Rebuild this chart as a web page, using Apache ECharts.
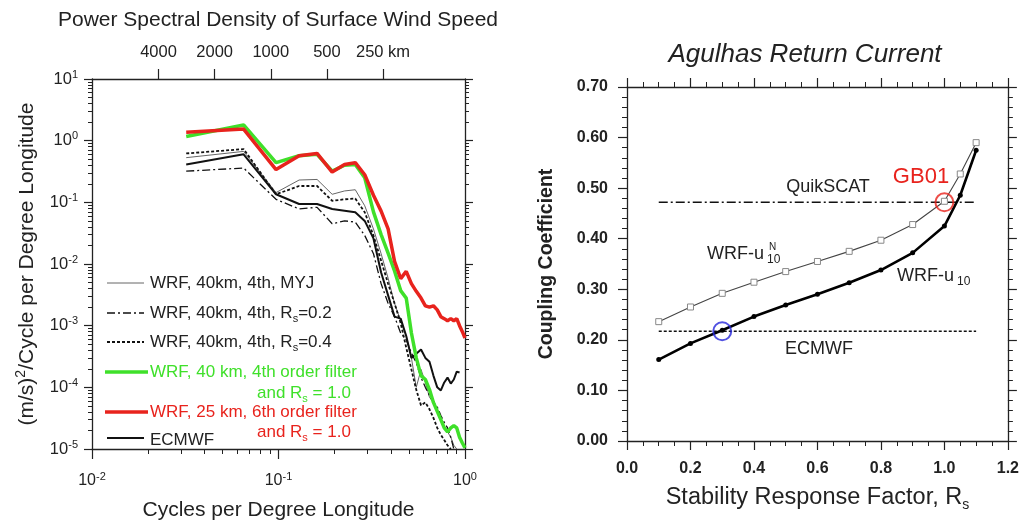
<!doctype html>
<html lang="en">
<head>
    <meta charset="utf-8">
    <title>PSD and coupling coefficient</title>
    <script src="https://cdn.jsdelivr.net/npm/echarts@6.0.0/dist/echarts.min.js"></script>
    <style>
        html, body { margin: 0; padding: 0; background: #fff; }
        #chart { width: 1022px; height: 526px; }
    </style>
</head>
<body>
<div id="chart"></div>

<script type="text/javascript">

    // ---- left panel: power spectral density ----
    const freq = [0.032, 0.065, 0.097, 0.129, 0.161, 0.194, 0.226, 0.258, 0.290, 0.323,
        0.355, 0.387, 0.419, 0.452, 0.484, 0.516, 0.548, 0.581, 0.613, 0.645,
        0.677, 0.710, 0.742, 0.774, 0.806, 0.839, 0.871, 0.903, 0.935, 0.968, 1.0];

    const psdMyj = [0.53, 0.67, 0.144, 0.23, 0.235, 0.135, 0.153, 0.16, 0.088, 0.037,
        0.0147, 0.0059, 0.0023, 0.0012, 0.00068, 0.0003, 0.0001, 0.000195, 0.00012, 6.9e-5,
        5.7e-5, 3.9e-5, 3.2e-5, 2.2e-5, 1.9e-5, 1.55e-5, 1.15e-5, 1e-5];
    const psdRs02 = [0.32, 0.36, 0.112, 0.078, 0.083, 0.045, 0.05, 0.048, 0.029, 0.0147,
        0.0048, 0.0023, 0.0014, 0.00076, 0.00059, 0.00036, 0.00025, 0.000144, 0.0001, 7.4e-5,
        5.7e-5, 4.8e-5, 3.5e-5, 2.7e-5, 2.2e-5, 1.55e-5, 1e-5];
    const psdRs04 = [0.62, 0.73, 0.135, 0.184, 0.184, 0.106, 0.112, 0.115, 0.069, 0.029,
        0.0113, 0.0048, 0.0023, 0.0011, 0.00044, 0.000195, 9.1e-5, 5.1e-5, 5.7e-5, 4.4e-5,
        3.2e-5, 2.2e-5, 1.7e-5, 1.4e-5, 1.15e-5, 1e-5];
    const psdEcmwf = [0.41, 0.6, 0.135, 0.094, 0.094, 0.078, 0.073, 0.069, 0.05, 0.026,
        0.0073, 0.0031, 0.0014, 0.0013, 0.00068, 0.0003, 0.00035, 0.00041, 0.0003, 0.00026,
        0.000155, 0.0001, 8.9e-5, 0.00012, 0.000144, 0.000115, 0.000134, 0.00018, 0.000174];
    const psdGreen = [1.17, 1.8, 0.44, 0.57, 0.6, 0.32, 0.40, 0.41, 0.25, 0.07,
        0.03, 0.015, 0.0077, 0.0037, 0.0028, 0.00076, 0.0003, 0.000155, 0.000134, 9.2e-5,
        5.7e-5, 4.1e-5, 3.0e-5, 2.2e-5, 1.9e-5, 2.2e-5, 2.4e-5, 2.2e-5, 1.55e-5, 1.25e-5, 1.04e-5];
    const psdRed = [1.37, 1.54, 0.34, 0.57, 0.62, 0.31, 0.41, 0.44, 0.28, 0.13,
        0.072, 0.037, 0.011, 0.0058, 0.0076, 0.0048, 0.0036, 0.0028, 0.0021, 0.002,
        0.0021, 0.0018, 0.0014, 0.0013, 0.0012, 0.0013, 0.0012, 0.0013, 0.001, 0.0008, 0.00063];

    const xDecades = [0.01, 0.1, 1];
    const xMinor = [0.02, 0.03, 0.04, 0.05, 0.06, 0.07, 0.08, 0.09, 0.2, 0.3, 0.4, 0.5, 0.6, 0.7, 0.8, 0.9];
    const yDecades = [1e-5, 1e-4, 1e-3, 1e-2, 1e-1, 1, 10];
    const kmTicks = [4000, 2000, 1000, 500, 250];
    const kmPerDegree = 90.9;

    // ---- right panel: coupling coefficient ----
    const rsValues = [0.1, 0.2, 0.3, 0.4, 0.5, 0.6, 0.7, 0.8, 0.9, 1.0, 1.05, 1.1];
    const couplingU10N = [0.236, 0.265, 0.292, 0.314, 0.335, 0.355, 0.375, 0.397, 0.428, 0.474, 0.528, 0.59];
    const couplingU10 = [0.161, 0.193, 0.219, 0.246, 0.269, 0.29, 0.313, 0.338, 0.372, 0.425, 0.486, 0.575];
    const refRange = [0.1, 1.1];
    const couplingQuikscat = 0.472;
    const couplingEcmwf = 0.217;
    const gb01Point = [1.0, 0.472];
    const ecmwfMatch = [0.3, 0.217];

    const FONT = '"Liberation Sans", Arial, Helvetica, sans-serif';
    const RED = '#e8231d';
    const GREEN = '#3fe02a';
    const BLUE = '#2626d9';
    const INK = '#222';

    function pairs(xs, ys) {
        return ys.map((v, i) => [xs[i], v]);
    }

    function expLabel(v) {
        return '10{e|' + Math.round(Math.log10(v)) + '}';
    }

    const minorDecades = yDecades.slice(0, -1).flatMap(d => [2, 3, 4, 5, 6, 7, 8, 9].map(m => m * d));
    const expRich = {e: {fontSize: 11, verticalAlign: 'top', lineHeight: 9, fontFamily: FONT, color: INK}};
    const legendSub = c => ({s: {fontSize: 11, verticalAlign: 'bottom', lineHeight: 10, fill: c}});

    let chart = echarts.init(document.getElementById('chart'), null, {renderer: 'canvas'});

    function logAxis(extra) {
        return Object.assign({
            type: 'log',
            logBase: 10,
            gridIndex: 0,
            splitLine: {show: false},
            axisLine: {show: true, lineStyle: {color: INK, width: 1.3}},
            axisTick: {show: true, inside: false, lineStyle: {color: INK, width: 1.2}},
            axisLabel: {show: false}
        }, extra);
    }

    function linAxis(extra) {
        return Object.assign({
            type: 'value',
            gridIndex: 1,
            splitLine: {show: false},
            axisLine: {show: true, onZero: false, lineStyle: {color: INK, width: 1.3}},
            axisTick: {show: true, inside: false, length: 9, lineStyle: {color: INK, width: 1.2}},
            minorTick: {show: true, length: 5, lineStyle: {color: INK, width: 1}},
            axisLabel: {show: false}
        }, extra);
    }

    const kmValues = kmTicks.map(k => kmPerDegree / k);

    let option = {
        animation: false,
        backgroundColor: '#fff',
        textStyle: {fontFamily: FONT},
        grid: [
            {left: 92, top: 79, width: 373, height: 373},
            {left: 627, top: 87, width: 381, height: 354}
        ],
        xAxis: [
            logAxis({
                min: 0.01, max: 1, position: 'bottom',
                axisTick: {show: true, inside: false, length: 10, customValues: xDecades, lineStyle: {color: INK, width: 1.2}},
                axisLabel: {show: true, customValues: xDecades, margin: 22, fontSize: 16, color: INK, lineHeight: 20, formatter: expLabel, rich: expRich},
                name: 'Cycles per Degree Longitude', nameLocation: 'middle', nameGap: 51,
                nameTextStyle: {fontSize: 21, color: INK, fontFamily: FONT}
            }),
            logAxis({
                min: 0.01, max: 1, position: 'bottom',
                axisLine: {show: false},
                axisTick: {show: true, inside: false, length: 5, customValues: xMinor, lineStyle: {color: INK, width: 1}}
            }),
            logAxis({
                min: 0.01, max: 1, position: 'top',
                axisTick: {show: true, inside: false, length: 10, customValues: kmValues, lineStyle: {color: INK, width: 1.2}},
                axisLabel: {
                    show: true, customValues: kmValues, margin: 18, fontSize: 16.5, color: INK,
                    formatter: function (v) {
                        const km = Math.round(kmPerDegree / v / 10) * 10;
                        return km === 250 ? '250 km' : String(km);
                    }
                }
            }),
            linAxis({
                min: 0, max: 1.2, interval: 0.2, position: 'bottom',
                minorTick: {show: true, splitNumber: 4, length: 5, lineStyle: {color: INK, width: 1}},
                axisLabel: {show: true, margin: 20, fontSize: 16, fontWeight: 'bold', color: INK, formatter: v => v.toFixed(1)},
                name: 'Stability Response Factor, R{s|s}', nameLocation: 'middle', nameGap: 43,
                nameTextStyle: {fontSize: 23.5, color: INK, fontFamily: FONT, lineHeight: 28, rich: {s: {fontSize: 14, verticalAlign: 'bottom', lineHeight: 13, color: INK}}}
            }),
            linAxis({
                min: 0, max: 1.2, interval: 0.2, position: 'top',
                minorTick: {show: true, splitNumber: 4, length: 5, lineStyle: {color: INK, width: 1}}
            })
        ],
        yAxis: [
            logAxis({
                min: 1e-5, max: 10, position: 'left',
                axisTick: {show: true, inside: false, length: 8, customValues: yDecades, lineStyle: {color: INK, width: 1.2}},
                axisLabel: {show: true, customValues: yDecades, margin: 14, fontSize: 16.5, color: INK, lineHeight: 20, formatter: expLabel, rich: expRich},
                name: '(m/s){e|2}/Cycle per Degree Longitude', nameLocation: 'middle', nameGap: 52,
                nameTextStyle: {fontSize: 21, color: INK, fontFamily: FONT, lineHeight: 26, rich: {e: {fontSize: 14, verticalAlign: 'top', lineHeight: 12, color: INK}}}
            }),
            logAxis({
                min: 1e-5, max: 10, position: 'left',
                axisLine: {show: false},
                axisTick: {show: true, inside: false, length: 4, customValues: minorDecades, lineStyle: {color: INK, width: 1}}
            }),
            logAxis({
                min: 1e-5, max: 10, position: 'right',
                axisTick: {show: true, inside: false, length: 8, customValues: yDecades, lineStyle: {color: INK, width: 1.2}}
            }),
            logAxis({
                min: 1e-5, max: 10, position: 'right',
                axisLine: {show: false},
                axisTick: {show: true, inside: false, length: 4, customValues: minorDecades, lineStyle: {color: INK, width: 1}}
            }),
            linAxis({
                min: 0, max: 0.7, interval: 0.1, position: 'left',
                minorTick: {show: true, splitNumber: 5, length: 5, lineStyle: {color: INK, width: 1}},
                axisLabel: {show: true, margin: 19, fontSize: 16, fontWeight: 'bold', color: INK, formatter: v => v.toFixed(2)},
                name: 'Coupling Coefficient', nameLocation: 'middle', nameGap: 70,
                nameTextStyle: {fontSize: 19.5, fontWeight: 'bold', color: INK, fontFamily: FONT}
            }),
            linAxis({
                min: 0, max: 0.7, interval: 0.1, position: 'right',
                minorTick: {show: true, splitNumber: 5, length: 5, lineStyle: {color: INK, width: 1}}
            })
        ],
        series: [
            {
                name: 'WRF, 40km, 4th, MYJ', type: 'line', xAxisIndex: 0, yAxisIndex: 0,
                symbol: 'none', data: pairs(freq, psdMyj),
                lineStyle: {color: '#555', width: 0.9}
            },
            {
                name: 'WRF, 40km, 4th, Rs=0.2', type: 'line', xAxisIndex: 0, yAxisIndex: 0,
                symbol: 'none', data: pairs(freq, psdRs02),
                lineStyle: {color: '#111', width: 1.3, type: [8, 3, 2, 3]}
            },
            {
                name: 'WRF, 40km, 4th, Rs=0.4', type: 'line', xAxisIndex: 0, yAxisIndex: 0,
                symbol: 'none', data: pairs(freq, psdRs04),
                lineStyle: {color: '#111', width: 1.8, type: [3, 2]}
            },
            {
                name: 'ECMWF', type: 'line', xAxisIndex: 0, yAxisIndex: 0,
                symbol: 'none', data: pairs(freq, psdEcmwf),
                lineStyle: {color: '#111', width: 2}
            },
            {
                name: 'WRF, 40 km, 4th order filter', type: 'line', xAxisIndex: 0, yAxisIndex: 0,
                symbol: 'none', data: pairs(freq, psdGreen),
                lineStyle: {color: GREEN, width: 3.5}
            },
            {
                name: 'WRF, 25 km, 6th order filter', type: 'line', xAxisIndex: 0, yAxisIndex: 0,
                symbol: 'none', data: pairs(freq, psdRed),
                lineStyle: {color: RED, width: 3.5}
            },
            {
                name: 'QuikSCAT', type: 'line', xAxisIndex: 3, yAxisIndex: 4,
                symbol: 'none', data: refRange.map(x => [x, couplingQuikscat]),
                lineStyle: {color: '#111', width: 1.4, type: [9, 3, 2, 3]}
            },
            {
                name: 'ECMWF coupling', type: 'line', xAxisIndex: 3, yAxisIndex: 4,
                symbol: 'none', data: refRange.map(x => [x, couplingEcmwf]),
                lineStyle: {color: '#111', width: 1.6, type: [3, 2]}
            },
            {
                name: 'WRF-u10N', type: 'line', xAxisIndex: 3, yAxisIndex: 4,
                symbol: 'rect', symbolSize: 6, showSymbol: true,
                data: pairs(rsValues, couplingU10N),
                itemStyle: {color: '#fff', borderColor: '#888', borderWidth: 1},
                lineStyle: {color: '#444', width: 1.1}
            },
            {
                name: 'WRF-u10', type: 'line', xAxisIndex: 3, yAxisIndex: 4,
                symbol: 'circle', symbolSize: 5, showSymbol: true,
                data: pairs(rsValues, couplingU10),
                itemStyle: {color: '#000'},
                lineStyle: {color: '#000', width: 2.6}
            },
            {
                name: 'GB01', type: 'scatter', xAxisIndex: 3, yAxisIndex: 4,
                symbol: 'circle', symbolSize: 18, data: [gb01Point], z: 5,
                itemStyle: {color: 'rgba(0,0,0,0)', borderColor: RED, borderWidth: 2}
            },
            {
                name: 'ECMWF match', type: 'scatter', xAxisIndex: 3, yAxisIndex: 4,
                symbol: 'circle', symbolSize: 18, data: [ecmwfMatch], z: 5,
                itemStyle: {color: 'rgba(0,0,0,0)', borderColor: BLUE, borderWidth: 2}
            }
        ],
        graphic: [
            // panel titles
            {type: 'text', x: 278, y: 20, style: {text: 'Power Spectral Density of Surface Wind Speed', font: '21px ' + FONT, fill: INK, align: 'center', verticalAlign: 'middle'}},
            {type: 'text', x: 805, y: 55, style: {text: 'Agulhas Return Current', font: 'italic 26px ' + FONT, fill: INK, align: 'center', verticalAlign: 'middle'}},

            // legend of the left panel
            {type: 'line', shape: {x1: 107, y1: 283, x2: 144, y2: 283}, style: {stroke: '#555', lineWidth: 0.9}},
            {type: 'line', shape: {x1: 107, y1: 313, x2: 144, y2: 313}, style: {stroke: '#111', lineWidth: 1.3, lineDash: [8, 3, 2, 3]}},
            {type: 'line', shape: {x1: 107, y1: 342, x2: 144, y2: 342}, style: {stroke: '#111', lineWidth: 1.8, lineDash: [3, 2]}},
            {type: 'line', shape: {x1: 105, y1: 372, x2: 148, y2: 372}, style: {stroke: GREEN, lineWidth: 3.5}},
            {type: 'line', shape: {x1: 105, y1: 412, x2: 148, y2: 412}, style: {stroke: RED, lineWidth: 3.5}},
            {type: 'line', shape: {x1: 107, y1: 438, x2: 144, y2: 438}, style: {stroke: '#111', lineWidth: 2}},
            {type: 'text', x: 150, y: 283, style: {text: 'WRF, 40km, 4th, MYJ', font: '17px ' + FONT, fill: INK, verticalAlign: 'middle'}},
            {type: 'text', x: 150, y: 313, style: {text: 'WRF, 40km, 4th, R{s|s}=0.2', font: '17px ' + FONT, fill: INK, verticalAlign: 'middle', lineHeight: 22, rich: legendSub(INK)}},
            {type: 'text', x: 150, y: 342, style: {text: 'WRF, 40km, 4th, R{s|s}=0.4', font: '17px ' + FONT, fill: INK, verticalAlign: 'middle', lineHeight: 22, rich: legendSub(INK)}},
            {type: 'text', x: 150, y: 372, style: {text: 'WRF, 40 km, 4th order filter', font: '17px ' + FONT, fill: GREEN, verticalAlign: 'middle'}},
            {type: 'text', x: 257, y: 393, style: {text: 'and R{s|s} = 1.0', font: '17px ' + FONT, fill: GREEN, verticalAlign: 'middle', lineHeight: 22, rich: legendSub(GREEN)}},
            {type: 'text', x: 150, y: 412, style: {text: 'WRF, 25 km, 6th order filter', font: '17px ' + FONT, fill: RED, verticalAlign: 'middle'}},
            {type: 'text', x: 257, y: 432, style: {text: 'and R{s|s} = 1.0', font: '17px ' + FONT, fill: RED, verticalAlign: 'middle', lineHeight: 22, rich: legendSub(RED)}},
            {type: 'text', x: 150, y: 440, style: {text: 'ECMWF', font: '17px ' + FONT, fill: INK, verticalAlign: 'middle'}},

            // annotations of the right panel
            {type: 'text', x: 921, y: 177, style: {text: 'GB01', font: '22px ' + FONT, fill: RED, align: 'center', verticalAlign: 'middle'}},
            {type: 'text', x: 828, y: 187, style: {text: 'QuikSCAT', font: '18px ' + FONT, fill: INK, align: 'center', verticalAlign: 'middle'}},
            {type: 'text', x: 707, y: 254, style: {text: 'WRF-u', font: '18px ' + FONT, fill: INK, verticalAlign: 'middle'}},
            {type: 'text', x: 769, y: 247, style: {text: 'N', font: '10px ' + FONT, fill: INK, verticalAlign: 'middle'}},
            {type: 'text', x: 767, y: 260, style: {text: '10', font: '12px ' + FONT, fill: INK, verticalAlign: 'middle'}},
            {type: 'text', x: 897, y: 276, style: {text: 'WRF-u', font: '18px ' + FONT, fill: INK, verticalAlign: 'middle'}},
            {type: 'text', x: 957, y: 282, style: {text: '10', font: '12px ' + FONT, fill: INK, verticalAlign: 'middle'}},
            {type: 'text', x: 819, y: 349, style: {text: 'ECMWF', font: '18px ' + FONT, fill: INK, align: 'center', verticalAlign: 'middle'}}
        ]
    };

    chart.setOption(option);
</script>
</body>
</html>
